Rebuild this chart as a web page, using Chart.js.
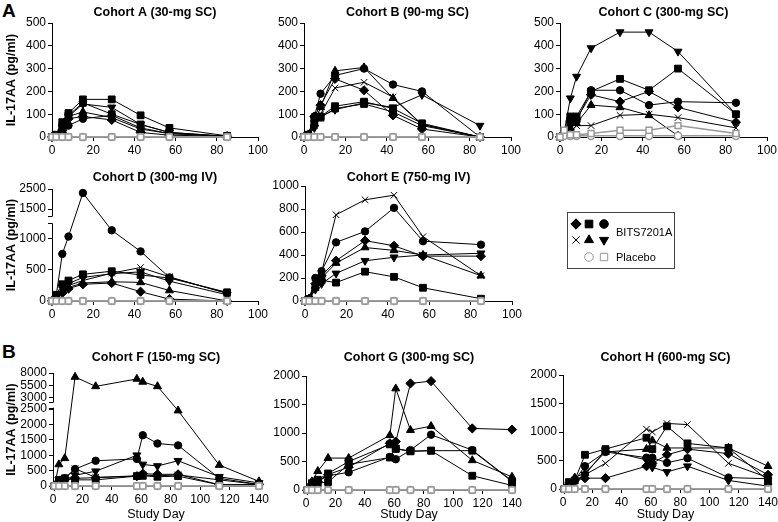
<!DOCTYPE html>
<html>
<head>
<meta charset="utf-8">
<script src="https://cdn.jsdelivr.net/npm/chart.js@4.4.0/dist/chart.umd.min.js"></script>
<style>
  body { margin: 0; width: 778px; height: 522px; background: #fff; position: relative; overflow: hidden;
         font-family: 'Liberation Sans', Arial, sans-serif; color: #000; }
  canvas { position: absolute; }
  .letter { position: absolute; font-weight: bold; font-size: 19px; }
  #legend { position: absolute; left: 567px; top: 212px; width: 106px; height: 55px; border: 1px solid #444; }
  #legend canvas { left: 0; top: 0; }
  #legend span { position: absolute; font-size: 11px; }
</style>
</head>
<body>
<div class="letter" style="left:2px;top:0px">A</div>
<div class="letter" style="left:2px;top:341px">B</div>
<div id="legend">
  <canvas id="legendMarks" width="106" height="55"></canvas>
  <span style="left:48px;top:13px">BITS7201A</span>
  <span style="left:48px;top:38px">Placebo</span>
</div>
<script>
// Study days
const daysEarly = [0, 2, 5, 8, 15, 29, 43, 57, 85]
const daysLate = [1, 4, 8, 15, 29, 57, 61, 71, 85, 113, 140]

const titles = ['Cohort A (30-mg SC)', 'Cohort B (90-mg SC)', 'Cohort C (300-mg SC)',
                'Cohort D (300-mg IV)', 'Cohort E (750-mg IV)',
                'Cohort F (150-mg SC)', 'Cohort G (300-mg SC)', 'Cohort H (600-mg SC)']

// y tick labels
const ticksSmall = [0, 100, 200, 300, 400, 500]
const ticksD = [0, 500, 1000, 1500, 2500]
const ticksE = [0, 200, 400, 600, 800, 1000]
const ticksF = [0, 500, 1000, 1500, 2000, 2500, 3000, 5500, 8000]
const ticksGH = [0, 500, 1000, 1500, 2000]

// BITS7201A subjects (marker per row), IL-17AA pg/ml
const markersA = ['square', 'square', 'triangleDown', 'triangle', 'circle', 'diamond']
const valuesA = [
  [0, 10, 65, 105, 165, 165, 95, 40, 5],
  [0, 8, 50, 95, 150, 100, 55, 20, 3],
  [0, 8, 40, 90, 145, 130, 55, 20, 3],
  [0, 5, 30, 90, 110, 85, 35, 15, 3],
  [0, 5, 20, 50, 80, 95, 40, 15, 3],
  [0, 5, 30, 80, 90, 75, 20, 8, 3],
]
const markersB = ['triangle', 'circle', 'cross', 'triangleDown', 'square', 'square', 'diamond']
const valuesB = [
  [0, 10, 60, 130, 290, 305, 170, 55, 0],
  [0, 10, 90, 190, 270, 300, 230, 200, 0],
  [0, 5, 50, 100, 215, 240, 175, 55, 0],
  [0, 5, 40, 90, 120, 150, 130, 185, 50],
  [0, 10, 80, 90, 135, 155, 125, 60, 0],
  [0, 5, 60, 85, 125, 145, 110, 50, 0],
  [0, 5, 90, 140, 255, 205, 95, 35, 0],
]
const markersC = ['triangleDown', 'square', 'circle', 'diamond', 'triangle', 'cross']
const valuesC = [
  [0, 20, 170, 265, 390, 460, 460, 375, 100],
  [0, 20, 90, 90, 200, 255, 205, 300, 100],
  [0, 10, 60, 70, 205, 205, 140, 155, 150],
  [0, 10, 70, 80, 185, 155, 200, 130, 65],
  [0, 10, 40, 60, 140, 130, 95, 5, null],
  [0, 5, 20, 50, 50, 95, 100, 85, 40],
]
const markersD = ['circle', 'square', 'cross', 'triangleDown', 'triangle', 'diamond']
const valuesD = [
  [0, 80, 760, 1040, 2300, 1140, 800, 380, 130],
  [0, 100, 270, 330, 430, 480, 420, 370, 140],
  [0, 50, 200, 250, 330, 450, 540, 390, 120],
  [0, 60, 230, 280, 380, 440, 470, 320, 100],
  [0, 50, 150, 220, 290, 310, 300, 170, 0],
  [0, 50, 130, 200, 270, 290, 150, 30, 0],
]
const markersE = ['cross', 'circle', 'diamond', 'triangle', 'triangleDown', 'square']
const valuesE = [
  [0, 20, 150, 250, 750, 880, 920, 560, 220],
  [0, 20, 200, 260, 510, 605, 810, 520, 490],
  [0, 20, 150, 220, 350, 525, 480, 390, 390],
  [0, 20, 130, 200, 330, 465, 440, 400, 220],
  [0, 15, 100, 150, 240, 350, 380, 400, 415],
  [0, 15, 120, 180, 160, 255, 210, 115, 20],
]
const markersF = ['triangle', 'circle', 'triangleDown', 'cross', 'square', 'diamond']
const valuesF = [
  [0, 700, 900, 7200, 5300, 6800, 6200, 5300, 2450, 680, 150],
  [0, 100, 250, 550, 820, 880, 1650, 1380, 1320, 250, 50],
  [0, 200, 200, 350, 480, 1000, 700, 650, 820, 300, 100],
  [0, 150, 250, 560, 280, 330, 360, 330, 360, 200, 50],
  [0, 200, 250, 200, 200, 320, 330, 300, 320, 40, 30],
  [0, 150, 200, 250, 270, 320, 400, 380, 380, 40, 50],
]
const markersG = ['diamond', 'triangle', 'circle', 'square', 'square']
const valuesG = [
  [0, 100, 150, 270, 400, 820, 850, 1870, 1910, 1080, 1060],
  [0, 150, 330, 560, 560, 960, 1780, 1050, 1120, 520, 230],
  [0, 100, 150, 250, 310, 580, 540, 700, 970, 700, 160],
  [0, 100, 120, 140, 450, 570, 730, 680, 690, 250, 80],
  [0, 120, 180, 290, 500, 800, 720, 680, 690, 690, 150],
]
const markersH = ['cross', 'square', 'circle', 'triangle', 'diamond', 'triangleDown']
const valuesH = [
  [0, 100, 150, 250, 450, 1050, 1000, 1150, 1130, 450, 200],
  [0, 120, 150, 600, 700, 900, 700, 1100, 800, 720, 150],
  [0, 80, 150, 400, 650, 550, 550, 460, 540, 200, 180],
  [0, 100, 200, 280, 650, 700, 850, 720, 720, 720, 400],
  [0, 80, 150, 190, 190, 400, 450, 600, 700, 620, 250],
  [0, 80, 120, 250, 680, 510, 380, 300, 400, 150, 50],
]

// Placebo subjects: [open square, open circle]
const placeboZeroEarly = [[0, 0, 0, 0, 0, 0, 0, 0, 0], [0, 0, 0, 0, 0, 0, 0, 0, 0]]
const placeboC = [[0, 30, 10, 10, 15, 30, 30, 50, 15], [0, 5, 5, 5, 5, 5, 5, 5, 5]]
const placeboZeroLate = [[0, 0, 0, 0, 0, 0, 0, 0, 0, 0, 0], [0, 0, 0, 0, 0, 0, 0, 0, 0, 0, 0]]

Chart.defaults.font.family = "'Liberation Sans', Arial, sans-serif"
Chart.defaults.font.size = 12
Chart.defaults.color = '#000'

// linear scale with a break: "pieces" maps values to fractions of the axis height
class BrokenLinearScale extends Chart.LinearScale {
  static id = 'brokenLinear'
  static defaults = {}
  frac(v) {
    const pts = this.options.pieces
    if (v <= pts[0][0]) return pts[0][1]
    for (let i = 1; i < pts.length; i++) {
      if (v <= pts[i][0]) {
        const [a, fa] = pts[i - 1], [b, fb] = pts[i]
        return fa + (v - a) / (b - a) * (fb - fa)
      }
    }
    return pts[pts.length - 1][1]
  }
  getPixelForValue(v) {
    if (v === null || v === undefined) return NaN
    return super.getPixelForValue(this.min + this.frac(v) * (this.max - this.min))
  }
}
Chart.register(BrokenLinearScale)

const axisBreak = {
  id: 'axisBreak',
  afterDraw(chart, args, opts) {
    if (!opts || opts.low == null) return
    const y = chart.scales.y, ctx = chart.ctx
    const pLow = y.getPixelForValue(opts.low), pHigh = y.getPixelForValue(opts.high)
    const x = Math.round(y.right)
    ctx.save()
    ctx.fillStyle = '#fff'
    ctx.fillRect(x - 2, pHigh, 4, pLow - pHigh)
    ctx.strokeStyle = '#000'
    ctx.lineWidth = 1
    ctx.beginPath()
    ctx.moveTo(x - 4, Math.round(pLow) + 0.5); ctx.lineTo(x + 0.5, Math.round(pLow) + 0.5)
    ctx.moveTo(x - 4, Math.round(pHigh) + 0.5); ctx.lineTo(x + 0.5, Math.round(pHigh) + 0.5)
    ctx.stroke()
    ctx.restore()
  }
}
Chart.register(axisBreak)

const markerStyles = {
  diamond: { pointStyle: 'rectRot', pointRadius: 4.6 },
  square: { pointStyle: 'rect', pointRadius: 4.8 },
  circle: { pointStyle: 'circle', pointRadius: 3.7 },
  cross: { pointStyle: 'crossRot', pointRadius: 4.6 },
  triangle: { pointStyle: 'triangle', pointRadius: 4.6 },
  triangleDown: { pointStyle: 'triangle', pointRadius: 4.6, pointRotation: 180 },
}

function toPoints(days, vals) {
  return days.map((d, i) => ({ x: d, y: vals[i] })).filter(p => p.y !== null)
}

function makeDatasets(days, markers, values, placebo) {
  const grey = '#999'
  const sets = [
    { data: toPoints(days, placebo[0]), pointStyle: 'rect', pointRadius: 4.2 },
    { data: toPoints(days, placebo[1]), pointStyle: 'circle', pointRadius: 3.6 },
  ].map(s => Object.assign(s, {
    borderColor: grey, borderWidth: 1.5, pointBorderColor: grey, pointBackgroundColor: '#fff',
    pointBorderWidth: 1.5, clip: false,
  }))
  values.forEach((vals, i) => {
    sets.push(Object.assign({
      data: toPoints(days, vals),
      borderColor: '#000', borderWidth: 1, pointBorderColor: '#000', pointBackgroundColor: '#000',
      pointBorderWidth: 1, clip: false,
    }, markerStyles[markers[i]]))
  })
  return sets
}

function buildPanel(p) {
  const yw = p.yTitle ? p.left : 40
  const canvasLeft = p.left - yw
  const canvasTop = p.titleY - 13
  const topm = p.top - canvasTop
  const rm = 14
  const width = yw + (p.right - p.left) + rm
  const height = topm + (p.bottom - p.top) + p.xh
  const cv = document.createElement('canvas')
  cv.width = width; cv.height = height
  cv.style.left = canvasLeft + 'px'; cv.style.top = canvasTop + 'px'
  cv.style.width = width + 'px'; cv.style.height = height + 'px'
  document.body.appendChild(cv)

  const axisGrid = { drawOnChartArea: false, drawTicks: true, tickLength: 4, color: '#000', lineWidth: 1 }
  const axisBorder = { display: true, color: '#000', width: 1 }
  const yScale = {
    type: p.pieces ? 'brokenLinear' : 'linear',
    min: 0, max: p.yTicks[p.yTicks.length - 1], bounds: 'data',
    afterBuildTicks: s => { s.ticks = p.yTicks.map(v => ({ value: v })) },
    afterFit: s => { s.width = yw },
    ticks: { autoSkip: false, padding: 2, callback: v => String(v), font: { size: 12 } },
    grid: axisGrid, border: axisBorder,
    title: { display: !!p.yTitle, text: 'IL-17AA (pg/ml)', font: { size: 12.5, weight: 'bold' },
             padding: { top: 4.5, bottom: 0 } },
  }
  if (p.pieces) yScale.pieces = p.pieces

  new Chart(cv, {
    type: 'line',
    data: { datasets: makeDatasets(p.days, p.markers, p.values, p.placebo) },
    options: {
      responsive: false, animation: false, events: [],
      layout: { padding: { left: 0, right: rm, top: 0, bottom: 0 } },
      plugins: {
        legend: { display: false }, tooltip: { enabled: false },
        title: { display: true, text: p.title, fullSize: false, color: '#000',
                 font: { size: 12.5, weight: 'bold' }, padding: { top: 5.5, bottom: topm - 5.5 - 15 } },
        axisBreak: p.brk || {},
      },
      scales: {
        x: {
          type: 'linear', min: 0, max: p.xMax,
          afterFit: s => { s.height = p.xh },
          ticks: { stepSize: 20, autoSkip: false, padding: 2, maxRotation: 0, font: { size: 12 } },
          grid: axisGrid, border: axisBorder,
          title: { display: !!p.xTitle, text: 'Study Day', font: { size: 12.5 }, padding: { top: 0, bottom: 1 } },
        },
        y: yScale,
      },
    },
  })
}

const panels = [
  { title: titles[0], left: 52, right: 258, top: 23, bottom: 137, titleY: 13, xh: 22, xMax: 100, yTitle: true,
    yTicks: ticksSmall, days: daysEarly, markers: markersA, values: valuesA, placebo: placeboZeroEarly },
  { title: titles[1], left: 304, right: 511, top: 23, bottom: 137, titleY: 13, xh: 22, xMax: 100,
    yTicks: ticksSmall, days: daysEarly, markers: markersB, values: valuesB, placebo: placeboZeroEarly },
  { title: titles[2], left: 560, right: 767, top: 23, bottom: 137, titleY: 13, xh: 22, xMax: 100,
    yTicks: ticksSmall, days: daysEarly, markers: markersC, values: valuesC, placebo: placeboC },
  { title: titles[3], left: 52, right: 258, top: 189, bottom: 301, titleY: 178, xh: 22, xMax: 100, yTitle: true,
    yTicks: ticksD, days: daysEarly, markers: markersD, values: valuesD, placebo: placeboZeroEarly,
    pieces: [[0, 0], [1250, 0.692], [1500, 0.821], [2500, 1]], brk: { low: 1250, high: 1380 } },
  { title: titles[4], left: 305, right: 512, top: 186, bottom: 301, titleY: 178, xh: 22, xMax: 100,
    yTicks: ticksE, days: daysEarly, markers: markersE, values: valuesE, placebo: placeboZeroEarly },
  { title: titles[5], left: 53, right: 259, top: 373, bottom: 486, titleY: 358, xh: 37, xMax: 140, yTitle: true, xTitle: true,
    yTicks: ticksF, days: daysLate, markers: markersF, values: valuesF, placebo: placeboZeroLate,
    pieces: [[0, 0], [2500, 0.681], [3000, 0.781], [8000, 1]], brk: { low: 2560, high: 2800 } },
  { title: titles[6], left: 306, right: 512, top: 376, bottom: 490, titleY: 358, xh: 33, xMax: 140, xTitle: true,
    yTicks: ticksGH, days: daysLate, markers: markersG, values: valuesG, placebo: placeboZeroLate },
  { title: titles[7], left: 563, right: 768, top: 375, bottom: 489, titleY: 358, xh: 34, xMax: 140, xTitle: true,
    yTicks: ticksGH, days: daysLate, markers: markersH, values: valuesH, placebo: placeboZeroLate },
]
panels.forEach(buildPanel)

// legend marks
const lctx = document.getElementById('legendMarks').getContext('2d')
const legendRows = [
  [['diamond', 8, 11], ['square', 21, 11], ['circle', 36, 11]],
  [['cross', 8, 27], ['triangle', 21, 27], ['triangleDown', 36, 27]],
]
lctx.fillStyle = '#000'; lctx.strokeStyle = '#000'
legendRows.flat().forEach(([m, x, y]) => {
  const st = markerStyles[m]
  Chart.helpers.drawPoint(lctx, { pointStyle: st.pointStyle, radius: st.pointRadius + 0.6,
    rotation: st.pointRotation || 0, borderWidth: 1 }, x, y)
})
lctx.fillStyle = '#fff'; lctx.strokeStyle = '#999'
Chart.helpers.drawPoint(lctx, { pointStyle: 'circle', radius: 4.3, borderWidth: 1.5 }, 21, 44)
Chart.helpers.drawPoint(lctx, { pointStyle: 'rect', radius: 5.2, borderWidth: 1.5 }, 36, 44)
</script>
</body>
</html>
